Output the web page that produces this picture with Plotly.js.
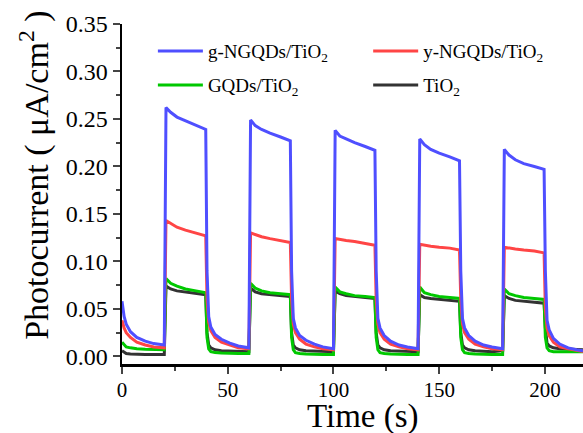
<!DOCTYPE html>
<html>
<head>
<meta charset="utf-8">
<script src="https://cdn.plot.ly/plotly-3.0.1.min.js"></script>
<style>html,body{margin:0;padding:0;background:#fff;}#chart{width:583px;height:433px;}</style>
</head>
<body>
<div id="chart"></div>
<script>
var time = [0,1,2,4,7,11,15,19.6,
 20,20.8,23,26,30,35,39.6, 40.2,41,42,44,47,51,55,59.6,
 60,60.8,63,66,70,75,79.6, 80.2,81,82,84,87,91,95,99.6,
 100,100.8,103,106,110,115,119.6, 120.2,121,122,124,127,131,135,139.6,
 140,140.8,143,146,150,155,159.6, 160.2,161,162,164,167,171,175,179.6,
 180,180.8,183,186,190,195,199.6, 200.2,201,202,204,207,211,215,218];

var gNGQDs = [0.058,0.042,0.034,0.026,0.020,0.016,0.0135,0.012,
 0.012,0.262,0.257,0.252,0.248,0.243,0.239, 0.09,0.042,0.031,0.023,0.018,0.014,0.011,0.009,
 0.009,0.249,0.243,0.239,0.235,0.231,0.227, 0.09,0.040,0.030,0.022,0.017,0.013,0.010,0.008,
 0.008,0.238,0.232,0.229,0.225,0.221,0.217, 0.09,0.040,0.030,0.022,0.016,0.012,0.010,0.008,
 0.008,0.229,0.223,0.218,0.214,0.210,0.206, 0.09,0.040,0.030,0.022,0.016,0.012,0.010,0.008,
 0.008,0.218,0.212,0.207,0.203,0.200,0.197, 0.09,0.038,0.028,0.019,0.013,0.009,0.007,0.006];

var yNGQDs = [0.038,0.030,0.025,0.020,0.015,0.012,0.010,0.009,
 0.009,0.143,0.140,0.136,0.133,0.130,0.127, 0.06,0.036,0.027,0.020,0.015,0.012,0.009,0.008,
 0.008,0.130,0.128,0.126,0.124,0.122,0.120, 0.06,0.034,0.025,0.018,0.013,0.010,0.008,0.007,
 0.007,0.124,0.123,0.122,0.121,0.119,0.117, 0.06,0.034,0.025,0.018,0.013,0.010,0.008,0.007,
 0.007,0.118,0.117,0.116,0.115,0.114,0.112, 0.06,0.034,0.025,0.018,0.013,0.010,0.008,0.007,
 0.007,0.115,0.114,0.113,0.112,0.111,0.109, 0.05,0.030,0.022,0.015,0.010,0.008,0.006,0.005];

var GQDs = [0.015,0.012,0.010,0.009,0.008,0.0075,0.007,0.007,
 0.007,0.082,0.077,0.074,0.071,0.069,0.067, 0.02,0.008,0.005,0.004,0.0035,0.003,0.003,0.003,
 0.003,0.077,0.072,0.069,0.067,0.066,0.065, 0.02,0.007,0.004,0.003,0.0025,0.002,0.002,0.002,
 0.002,0.073,0.068,0.066,0.064,0.063,0.062, 0.02,0.007,0.004,0.003,0.0025,0.002,0.002,0.002,
 0.002,0.073,0.067,0.065,0.063,0.062,0.061, 0.02,0.007,0.004,0.003,0.0025,0.002,0.002,0.002,
 0.002,0.071,0.066,0.064,0.062,0.061,0.060, 0.02,0.009,0.006,0.005,0.005,0.005,0.005,0.005];

var TiO2 = [0.006,0.004,0.003,0.0025,0.002,0.002,0.002,0.002,
 0.002,0.074,0.071,0.069,0.068,0.066,0.065, 0.025,0.012,0.009,0.007,0.006,0.0055,0.005,0.005,
 0.005,0.072,0.068,0.066,0.065,0.064,0.063, 0.025,0.012,0.009,0.007,0.006,0.0055,0.005,0.005,
 0.005,0.069,0.066,0.064,0.063,0.062,0.061, 0.025,0.012,0.009,0.007,0.006,0.0055,0.005,0.005,
 0.005,0.065,0.062,0.061,0.060,0.059,0.058, 0.025,0.012,0.009,0.007,0.006,0.0055,0.005,0.006,
 0.006,0.064,0.061,0.059,0.058,0.057,0.056, 0.03,0.014,0.011,0.009,0.008,0.0075,0.007,0.007];

var names = ['g-NGQDs/TiO<sub>2</sub>','y-NGQDs/TiO<sub>2</sub>','GQDs/TiO<sub>2</sub>','TiO<sub>2</sub>'];
var colors = ['#4f4fff','#ff4545','#00c800','#333333'];
var series = [gNGQDs, yNGQDs, GQDs, TiO2];
var legendOf = ['legend','legend2','legend3','legend4'];
var xTitle = 'Time (s)';
var yTitle = 'Photocurrent ( \u03bcA/cm<sup>2</sup> )';

// draw order: black at bottom, blue on top
var drawOrder = [3,2,1,0];
var traces = drawOrder.map(function(i){
  return {x: time, y: series[i], name: names[i], type:'scatter', mode:'lines',
    line:{color:colors[i], width:3}, legend: legendOf[i]};
});

var font = '"Liberation Serif", "Times New Roman", serif';
var legendAt = function(x, y){
  return {orientation:'h', x:x, y:y, xanchor:'left', yanchor:'middle',
    font:{family:font, size:19, color:'#000'},
    bgcolor:'rgba(0,0,0,0)', itemwidth:45};
};
var layout = {
  width:583, height:433,
  margin:{l:122, r:0, t:24, b:69},
  paper_bgcolor:'#fff', plot_bgcolor:'#fff',
  font:{family:font, color:'#000'},
  showlegend:true,
  legend: legendAt(0.067, 0.92),
  legend2: legendAt(0.534, 0.92),
  legend3: legendAt(0.067, 0.82),
  legend4: legendAt(0.534, 0.82),
  xaxis:{range:[0,218], tickvals:[0,50,100,150,200], ticks:'outside', ticklen:7, tickwidth:2,
    ticklabelstandoff:-2,
    showline:true, linewidth:2.5, linecolor:'#000', showgrid:false, zeroline:false,
    tickfont:{family:font, size:21, color:'#000'},
    minor:{tickvals:[25,75,125,175], ticks:'outside', ticklen:4, tickwidth:2, showgrid:false}},
  yaxis:{range:[-0.008,0.35], tickvals:[0,0.05,0.1,0.15,0.2,0.25,0.3,0.35], tickformat:'.2f',
    ticks:'outside', ticklen:7, tickwidth:2,
    showline:true, linewidth:2.5, linecolor:'#000', showgrid:false, zeroline:false,
    tickfont:{family:font, size:24, color:'#000'},
    minor:{tickvals:[0.025,0.075,0.125,0.175,0.225,0.275,0.325], ticks:'outside', ticklen:4, tickwidth:2, showgrid:false}},
  annotations:[
    {text:xTitle, xref:'paper', yref:'paper', x:0.523, y:-0.153, xanchor:'center', yanchor:'middle',
     showarrow:false, borderpad:0, font:{family:font, size:33, color:'#000'}},
    {text:yTitle, xref:'paper', yref:'paper', x:-0.189, y:0.556, xanchor:'center', yanchor:'middle',
     textangle:-90, showarrow:false, borderpad:0, font:{family:font, size:34, color:'#000'}}
  ]
};

Plotly.newPlot('chart', traces, layout, {staticPlot:true, displayModeBar:false});
</script>
</body>
</html>
